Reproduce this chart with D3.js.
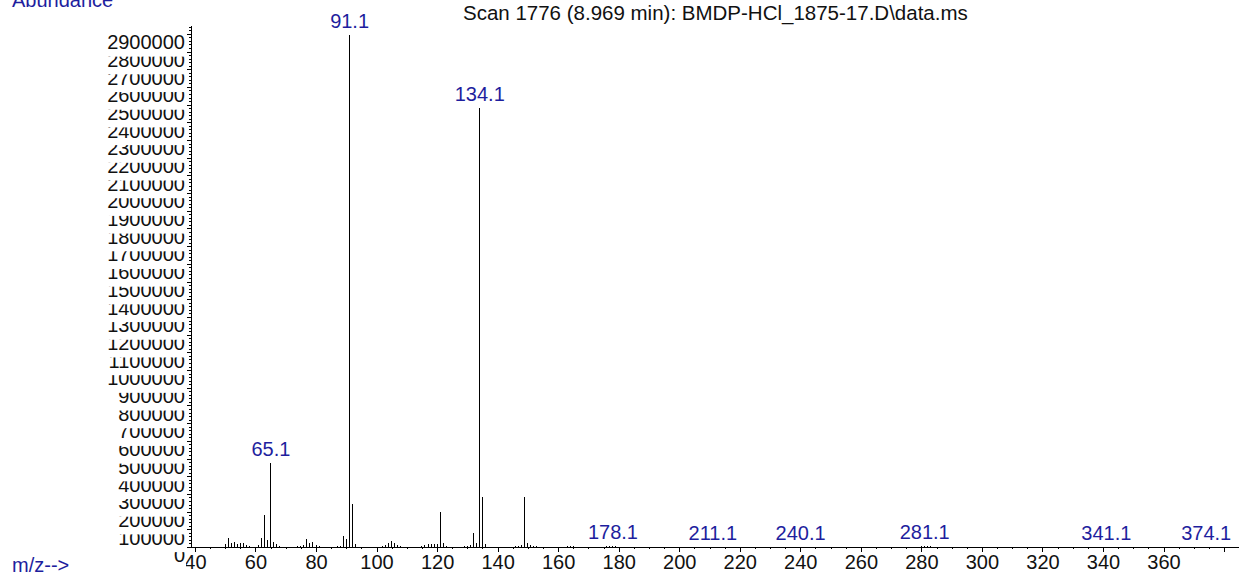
<!DOCTYPE html>
<html>
<head>
<meta charset="utf-8">
<script src="https://cdn.jsdelivr.net/npm/d3@7"></script>
<style>
  body { margin: 0; background: #fff; }
  svg text { font-family: Arial, "Liberation Sans", sans-serif; }
</style>
</head>
<body>
<svg id="chart" width="1248" height="580"></svg>
<script>
// peaks (m/z, abundance)
const mz = [50, 51, 52, 53, 54, 55, 56, 57, 58, 61, 62, 63, 64, 65.1, 66, 67, 68,
  74, 75, 76, 77, 78, 79, 80, 81, 87, 88, 89, 90, 91.1, 92, 93,
  102, 103, 104, 105, 106, 107, 108, 115, 116, 117, 118, 119, 120, 121, 122, 123,
  129, 130, 131, 132, 133, 134.1, 135, 136, 146, 147, 148, 149, 150, 151, 152, 153,
  163, 164, 165, 176, 177, 178.1, 179, 211.1, 240.1, 280, 281.1, 282, 283, 341.1, 374.1];
const abundance = [15000, 53000, 20000, 26000, 15000, 22000, 20000, 10000, 5000, 10000, 53000, 181000, 37000, 475000, 26000, 15000, 5000,
  8000, 8000, 10000, 43000, 20000, 26000, 12000, 5000, 5000, 8000, 62000, 43000, 2895000, 245000, 15000,
  5000, 10000, 22000, 34000, 20000, 10000, 5000, 5000, 12000, 15000, 15000, 15000, 15000, 198000, 23000, 8000,
  4000, 6000, 10000, 81000, 22000, 2483000, 280000, 15000, 5000, 8000, 12000, 280000, 21000, 10000, 7000, 4000,
  3000, 3000, 3000, 3000, 3000, 4000, 3000, 2500, 2500, 3000, 4000, 3000, 3000, 2000, 2000];
const peakLabels = [65.1, 91.1, 134.1, 178.1, 211.1, 240.1, 281.1, 341.1, 374.1];
const xTickLabels = [40, 60, 80, 100, 120, 140, 160, 180, 200, 220, 240, 260, 280, 300, 320, 340, 360];
const yTickLabels = d3.range(0, 2900001, 100000);
const title = "Scan 1776 (8.969 min): BMDP-HCl_1875-17.D\\data.ms";

const peaks = mz.map((m, i) => ({ mz: m, ab: abundance[i] }));
const blue = "#1e1e9e";

const svg = d3.select('#chart');
const x = d3.scaleLinear().domain([38.7, 384.6]).range([191, 1238]);
const y = d3.scaleLinear().domain([0, 2950000]).range([547, 25]);

// x axis: minor ticks every 5, major every 20
svg.append('g')
  .attr('transform', `translate(0, ${y(0)})`)
  .call(d3.axisBottom(x).tickValues(d3.range(40, 385, 5)).tickSize(2).tickSizeOuter(0).tickFormat(''))
  .call(g => g.select('.domain').attr('stroke', '#000'))
  .attr('shape-rendering', 'crispEdges');

svg.append('g')
  .attr('transform', `translate(0, ${y(0)})`)
  .call(d3.axisBottom(x).tickValues(d3.range(40, 381, 20)).tickSize(5).tickSizeOuter(0).tickFormat(d => xTickLabels.includes(d) ? d : ''))
  .call(g => g.select('.domain').remove())
  .attr('shape-rendering', 'crispEdges')
  .selectAll('text')
  .attr('font-size', 20)
  .attr('font-family', 'Arial, "Liberation Sans", sans-serif')
  .attr('fill', '#111');

// y axis
svg.append('g')
  .attr('transform', `translate(${x.range()[0]}, 0)`)
  .call(d3.axisLeft(y).tickValues(d3.range(0, 2950001, 20000)).tickSize(2).tickSizeOuter(0).tickFormat(''))
  .attr('shape-rendering', 'crispEdges');

svg.append('g')
  .attr('transform', `translate(${x.range()[0]}, 0)`)
  .call(d3.axisLeft(y).tickValues(yTickLabels).tickSize(4).tickSizeOuter(0).tickFormat(''))
  .call(g => g.select('.domain').remove())
  .attr('shape-rendering', 'crispEdges');

// y labels, drawn bottom-up with opaque boxes so each one clips the top of the one below
const yl = svg.append('g');
yTickLabels.forEach(v => {
  const g = yl.append('g').attr('transform', `translate(185, ${y(v)})`);
  g.append('rect').attr('x', -80).attr('y', 0).attr('width', 81).attr('height', 22.8).attr('fill', '#fff');
  g.append('text').attr('text-anchor', 'end').attr('y', 15.3)
    .attr('font-size', 20).attr('fill', '#111').text(v);
});

// bars
svg.append('g').selectAll('line').data(peaks).join('line')
  .attr('x1', d => x(d.mz)).attr('x2', d => x(d.mz))
  .attr('y1', y(0)).attr('y2', d => y(d.ab))
  .attr('stroke', '#000').attr('stroke-width', 1)
  .attr('shape-rendering', 'crispEdges');

// peak labels
svg.append('g').selectAll('text').data(peaks.filter(d => peakLabels.includes(d.mz))).join('text')
  .attr('x', d => x(d.mz))
  .attr('y', d => y(d.ab) - 7)
  .attr('text-anchor', 'middle')
  .attr('font-size', 20)
  .attr('fill', blue)
  .text(d => d.mz.toFixed(1));

svg.append('text').attr('x', 12).attr('y', 7).attr('font-size', 20).attr('fill', blue).text('Abundance');
svg.append('text').attr('x', 12).attr('y', 572).attr('font-size', 20).attr('fill', blue).text('m/z-->');
svg.append('text').attr('x', 463).attr('y', 20).attr('font-size', 20.5).attr('fill', '#111').text(title);
</script>
</body>
</html>
